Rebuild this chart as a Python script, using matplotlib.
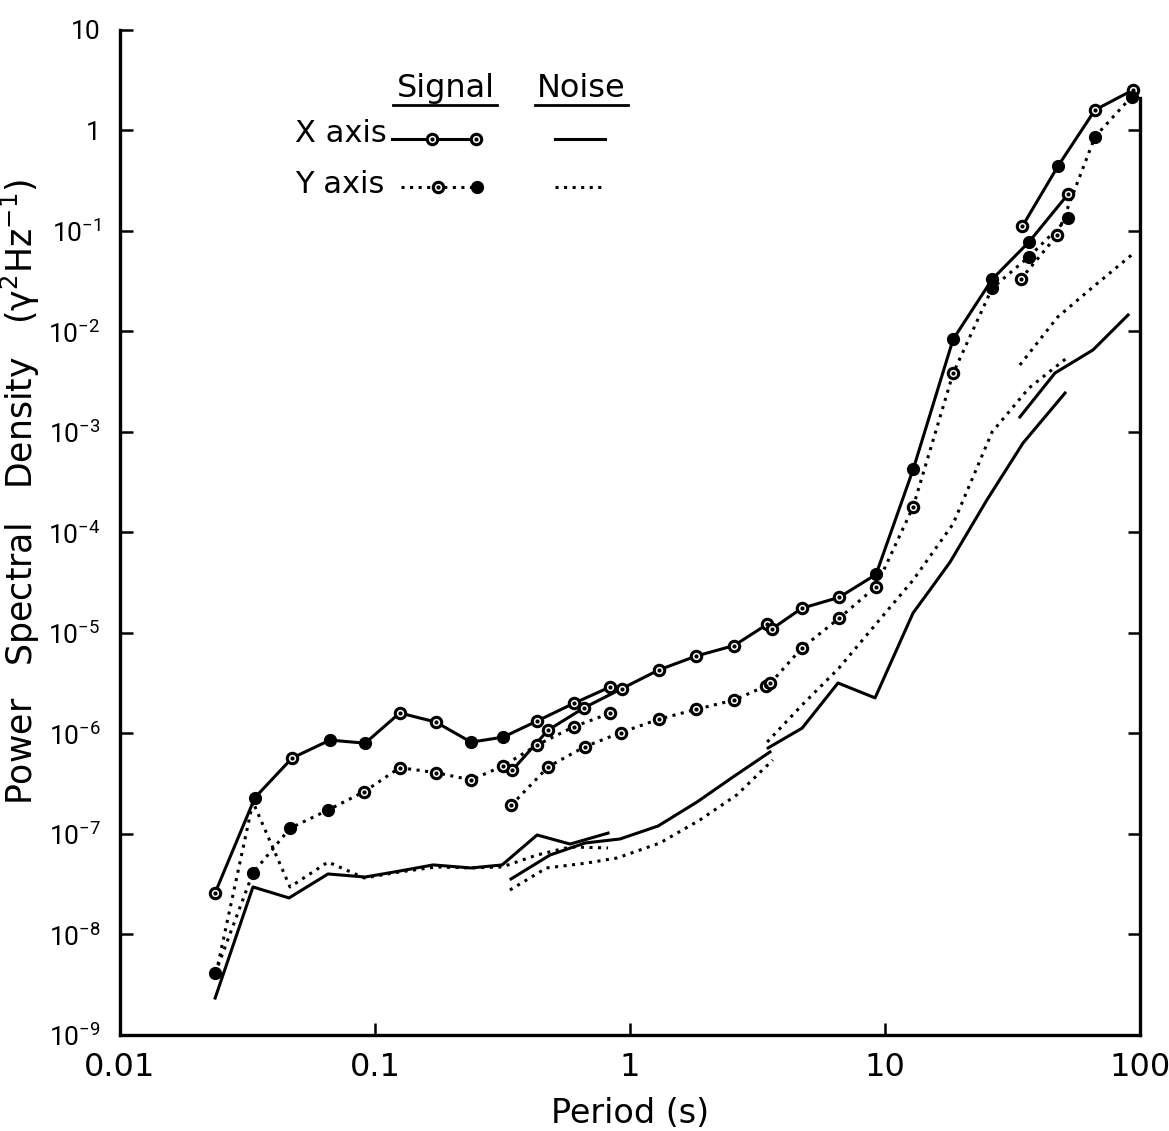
import matplotlib
matplotlib.use("Agg")
import matplotlib.pyplot as plt
import numpy as np

plt.rcParams['font.family'] = ['DejaVu Sans']
plt.rcParams['mathtext.fontset'] = 'custom'
plt.rcParams['mathtext.rm'] = 'Roboto'
plt.rcParams['mathtext.it'] = 'Roboto:italic'
plt.rcParams['mathtext.bf'] = 'Roboto:bold'

# ---- X axis signal, one list per frequency band ----
x_sig_per1 = [0.0236, 0.0338, 0.0473, 0.0666, 0.0914, 0.125, 0.173, 0.238, 0.318, 0.432, 0.603, 0.835]
x_sig_psd1 = [2.6e-8, 2.3e-7, 5.7e-7, 8.6e-7, 8.0e-7, 1.6e-6, 1.3e-6, 8.2e-7, 9.2e-7, 1.33e-6, 2.0e-6, 2.9e-6]
x_sig_fill1 = [0, 1, 0, 1, 1, 0, 0, 1, 1, 0, 0, 0]

x_sig_per2 = [0.345, 0.477, 0.660, 0.930, 1.30, 1.82, 2.56, 3.45]
x_sig_psd2 = [4.3e-7, 1.08e-6, 1.8e-6, 2.8e-6, 4.3e-6, 5.9e-6, 7.5e-6, 1.22e-5]
x_sig_fill2 = [0, 0, 0, 0, 0, 0, 0, 0]

x_sig_per3 = [3.59, 4.71, 6.60, 9.22, 12.9, 18.5, 26.3, 36.7, 52.2]
x_sig_psd3 = [1.09e-5, 1.76e-5, 2.26e-5, 3.82e-5, 4.26e-4, 8.36e-3, 3.30e-2, 7.78e-2, 0.232]
x_sig_fill3 = [0, 0, 0, 1, 1, 1, 1, 1, 0]

x_sig_per4 = [34.6, 47.7, 66.6, 93.9]
x_sig_psd4 = [0.112, 0.443, 1.60, 2.53]
x_sig_fill4 = [0, 1, 0, 0]

# ---- Y axis signal ----
y_sig_per1 = [0.0236, 0.0332, 0.0464, 0.0654, 0.0908, 0.125, 0.174, 0.238, 0.318, 0.433, 0.603, 0.835]
y_sig_psd1 = [4.1e-9, 4.1e-8, 1.14e-7, 1.73e-7, 2.64e-7, 4.57e-7, 4.07e-7, 3.45e-7, 4.75e-7, 7.7e-7, 1.17e-6, 1.59e-6]
y_sig_fill1 = [1, 1, 1, 1, 0, 0, 0, 0, 0, 0, 0, 0]

y_sig_per2 = [0.342, 0.478, 0.665, 0.92, 1.30, 1.82, 2.56, 3.41]
y_sig_psd2 = [1.93e-7, 4.67e-7, 7.39e-7, 1.02e-6, 1.39e-6, 1.74e-6, 2.15e-6, 2.97e-6]
y_sig_fill2 = [0, 0, 0, 0, 0, 0, 0, 0]

y_sig_per3 = [3.55, 4.71, 6.60, 9.22, 12.9, 18.5, 26.3, 36.7, 52.2]
y_sig_psd3 = [3.16e-6, 7.05e-6, 1.40e-5, 2.89e-5, 1.81e-4, 3.84e-3, 2.69e-2, 5.55e-2, 0.134]
y_sig_fill3 = [0, 0, 0, 0, 0, 0, 1, 1, 1]

y_sig_per4 = [34.0, 47.4, 66.6, 92.7]
y_sig_psd4 = [3.30e-2, 9.12e-2, 0.867, 2.17]
y_sig_fill4 = [0, 0, 1, 1]

# ---- X axis noise ----
x_noise_per1 = [0.0236, 0.0332, 0.0460, 0.0654, 0.0914, 0.125, 0.169, 0.238, 0.315, 0.432, 0.582, 0.820]
x_noise_psd1 = [2.33e-9, 2.97e-8, 2.31e-8, 4.0e-8, 3.73e-8, 4.28e-8, 4.92e-8, 4.59e-8, 4.92e-8, 9.77e-8, 7.94e-8, 1.02e-7]

x_noise_per2 = [0.3415, 0.486, 0.666, 0.914, 1.288, 1.831, 2.534, 3.54]
x_noise_psd2 = [3.57e-8, 6.18e-8, 8.13e-8, 8.92e-8, 1.20e-7, 2.08e-7, 3.69e-7, 6.55e-7]

x_noise_per3 = [3.48, 4.73, 6.54, 9.14, 12.88, 15.0, 18.0, 25.1, 34.8, 50.8]
x_noise_psd3 = [7.18e-7, 1.13e-6, 3.18e-6, 2.26e-6, 1.58e-5, 2.68e-5, 5.08e-5, 2.11e-4, 7.78e-4, 2.44e-3]

x_noise_per4 = [33.8, 46.4, 65.4, 89.8]
x_noise_psd4 = [1.41e-3, 3.86e-3, 6.55e-3, 1.46e-2]

# ---- Y axis noise ----
y_noise_per1 = [0.0242, 0.0332, 0.0464, 0.0654, 0.0908, 0.125, 0.174, 0.238, 0.315, 0.432, 0.582, 0.820]
y_noise_psd1 = [5.0e-9, 2.08e-7, 2.97e-8, 5.26e-8, 3.65e-8, 4.19e-8, 4.70e-8, 4.59e-8, 4.70e-8, 6.18e-8, 7.43e-8, 7.26e-8]

y_noise_per2 = [0.338, 0.470, 0.677, 0.89, 1.31, 1.88, 2.62, 3.63]
y_noise_psd2 = [2.77e-8, 4.59e-8, 5.14e-8, 5.77e-8, 8.13e-8, 1.38e-7, 2.44e-7, 5.45e-7]

y_noise_per3 = [3.45, 4.73, 6.60, 9.22, 12.9, 18.5, 26.3, 36.7, 52.2]
y_noise_psd3 = [8.23e-7, 1.92e-6, 4.48e-6, 1.23e-5, 3.37e-5, 1.22e-4, 1.0e-3, 2.74e-3, 5.57e-3]

y_noise_per4 = [33.8, 47.5, 65.4, 92.7]
y_noise_psd4 = [4.64e-3, 1.39e-2, 2.77e-2, 5.77e-2]

# axis ticks
x_ticks = [0.01, 0.1, 1, 10, 100]
x_tick_labels = ['0.01', '0.1', '1', '10', '100']
y_ticks = [10.0 ** k for k in range(1, -10, -1)]
y_tick_labels = ['10', '1'] + [r'$\mathregular{10^{-%d}}$' % k for k in range(1, 10)]

SOLID = '-'
DOTTED = (0, (1, 1.8))
LW = 2.2


def draw_signal(ax, per, psd, fill, ls):
    per = np.array(per)
    psd = np.array(psd)
    fill = np.array(fill, dtype=bool)
    ax.plot(per, psd, color='k', ls=ls, lw=LW, zorder=3)
    # open circles with a dot in the middle
    ax.plot(per[~fill], psd[~fill], 'o', ms=7.5, mfc='white', mec='k', mew=2.2, ls='none', zorder=4)
    ax.plot(per[~fill], psd[~fill], 'o', ms=2, color='k', ls='none', zorder=5)
    # filled circles
    ax.plot(per[fill], psd[fill], 'o', ms=8.5, mfc='k', mec='k', ls='none', zorder=4)


def draw_noise(ax, per, psd, ls):
    ax.plot(per, psd, color='k', ls=ls, lw=LW, zorder=2)


fig = plt.figure(figsize=(11.69, 11.31), dpi=100)
ax = fig.add_axes([0.1027, 0.0849, 0.8725, 0.8886])
ax.set_xscale('log')
ax.set_yscale('log')
ax.set_xlim(0.01, 100)
ax.set_ylim(1e-9, 10)

# noise curves
for per, psd in [(x_noise_per1, x_noise_psd1), (x_noise_per2, x_noise_psd2),
                 (x_noise_per3, x_noise_psd3), (x_noise_per4, x_noise_psd4)]:
    draw_noise(ax, per, psd, SOLID)
for per, psd in [(y_noise_per1, y_noise_psd1), (y_noise_per2, y_noise_psd2),
                 (y_noise_per3, y_noise_psd3), (y_noise_per4, y_noise_psd4)]:
    draw_noise(ax, per, psd, DOTTED)

# signal curves
for per, psd, fl in [(x_sig_per1, x_sig_psd1, x_sig_fill1), (x_sig_per2, x_sig_psd2, x_sig_fill2),
                     (x_sig_per3, x_sig_psd3, x_sig_fill3), (x_sig_per4, x_sig_psd4, x_sig_fill4)]:
    draw_signal(ax, per, psd, fl, SOLID)
for per, psd, fl in [(y_sig_per1, y_sig_psd1, y_sig_fill1), (y_sig_per2, y_sig_psd2, y_sig_fill2),
                     (y_sig_per3, y_sig_psd3, y_sig_fill3), (y_sig_per4, y_sig_psd4, y_sig_fill4)]:
    draw_signal(ax, per, psd, fl, DOTTED)

# axes frame: no top line, right line stops short of the top
ax.spines['top'].set_visible(False)
for s in ['left', 'bottom', 'right']:
    ax.spines[s].set_linewidth(2.4)
ax.spines['right'].set_bounds(1e-9, 2.1)

ax.set_xticks(x_ticks)
ax.set_xticklabels(x_tick_labels)
ax.set_yticks(y_ticks)
ax.set_yticklabels(y_tick_labels)
ax.xaxis.set_minor_locator(plt.NullLocator())
ax.yaxis.set_minor_locator(plt.NullLocator())
ax.tick_params(axis='both', which='major', direction='in', length=9, width=1.8, right=True)
ax.tick_params(axis='x', pad=12, labelsize=23)
ax.tick_params(axis='y', pad=14, labelsize=19)
for lab in ax.get_yticklabels():
    lab.set_fontfamily('Roboto')
# no right tick above the end of the right line
for t in ax.yaxis.get_major_ticks():
    if t.get_loc() > 2.1:
        t.tick2line.set_visible(False)

ax.set_xlabel('Period (s)', fontsize=24, labelpad=10)
ax.set_ylabel('Power   Spectral   Density   ($\\mathregular{\u03b3^2Hz^{-1}}$)', fontsize=25)
ax.yaxis.set_label_coords(-0.077, 0.54)

# legend drawn by hand
tr = ax.transAxes
ax.text(0.319, 0.942, 'Signal', transform=tr, fontsize=23, ha='center', va='center')
ax.text(0.452, 0.942, 'Noise', transform=tr, fontsize=23, ha='center', va='center')
ax.plot([0.268, 0.370], [0.925, 0.925], color='k', lw=2, transform=tr, clip_on=False)
ax.plot([0.407, 0.498], [0.925, 0.925], color='k', lw=2, transform=tr, clip_on=False)

ax.text(0.172, 0.897, 'X axis', transform=tr, fontsize=22, ha='left', va='center')
ax.text(0.172, 0.846, 'Y axis', transform=tr, fontsize=22, ha='left', va='center')

ax.plot([0.267, 0.353], [0.892, 0.892], color='k', lw=LW, ls=SOLID, transform=tr)
ax.plot([0.306, 0.349], [0.892, 0.892], 'o', ms=7.5, mfc='white', mec='k', mew=2.2, transform=tr)
ax.plot([0.306, 0.349], [0.892, 0.892], 'o', ms=2, color='k', transform=tr)
ax.plot([0.426, 0.475], [0.892, 0.892], color='k', lw=LW, ls=SOLID, transform=tr)

ax.plot([0.275, 0.353], [0.844, 0.844], color='k', lw=LW, ls=DOTTED, transform=tr)
ax.plot([0.312], [0.844], 'o', ms=7.5, mfc='white', mec='k', mew=2.2, transform=tr)
ax.plot([0.312], [0.844], 'o', ms=2, color='k', transform=tr)
ax.plot([0.350], [0.844], 'o', ms=8.5, color='k', transform=tr)
ax.plot([0.426, 0.475], [0.844, 0.844], color='k', lw=LW, ls=DOTTED, transform=tr)

fig.savefig('out.png', dpi=100, facecolor='white')
